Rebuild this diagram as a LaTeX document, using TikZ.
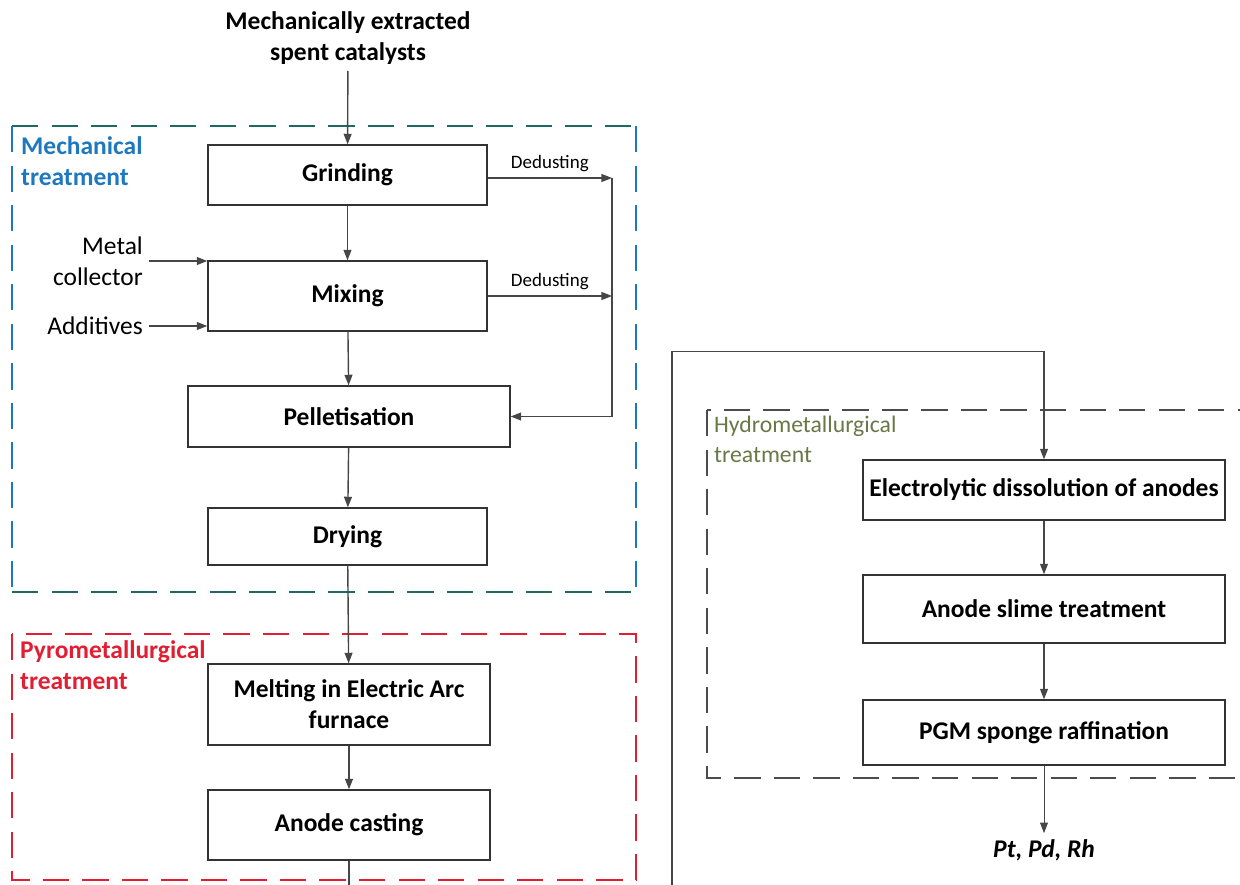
\documentclass[tikz,border=0pt]{standalone}
\usepackage{fontspec}
\setmainfont{Carlito}
\definecolor{MechBlue}{RGB}{30, 120, 190}
\definecolor{MechTeal}{RGB}{30, 105, 100}
\definecolor{PyroRed}{RGB}{225, 30, 50}
\definecolor{HydroOlive}{RGB}{105, 120, 70}
\definecolor{LineGrey}{RGB}{70, 70, 70}
\usepackage{tikz}
\usetikzlibrary{arrows.meta, positioning, calc}

\begin{document}
\begin{tikzpicture}[
            x=0.02cm, y=-0.02cm,
            box/.style={rectangle, draw=black!80, line width=0.8pt, align=center, font=\fontsize{14.5}{17.5}\selectfont\bfseries},
            arr/.style={draw=LineGrey, line width=0.8pt, -{Triangle[length=6pt, width=4.5pt]}},
            frame/.style={line width=1.1pt, dash pattern=on 15pt off 7.5pt},
            tag/.style={anchor=north west, align=left, font=\fontsize{14.5}{18}\selectfont\bfseries},
        ]
            \clip (0,0) rectangle (1240,885);
            % frames
            \draw[frame, MechTeal] (12,126) -- (636,126);
            \draw[frame, MechTeal] (12,592) -- (636,592);
            \draw[frame, MechBlue] (12,126) -- (12,592);
            \draw[frame, MechBlue] (636,126) -- (636,592);
            \draw[frame, PyroRed] (12,634) rectangle (636,880);
            \draw[frame, black!70] (707,410) rectangle (1250,778);
            \node[tag, text=MechBlue] (mechtag) at (15,130) {Mechanical\\treatment};
            \node[tag, text=PyroRed] (pyrotag) at (14,634) {Pyrometallurgical\\treatment};
            \node[tag, text=HydroOlive, font=\fontsize{13.5}{17}\selectfont] (hydrotag) at (708,410) {Hydrometallurgical\\treatment};

            % left column
            \node[box, draw=none] (feed) at (348,38) {Mechanically extracted\\spent catalysts};
            \node[box, minimum width=5.58cm, minimum height=1.2cm] (grind) at (347.5,175) {Grinding};
            \node[box, minimum width=5.58cm, minimum height=1.4cm] (mix) at (347.5,296) {Mixing};
            \node[box, minimum width=6.44cm, minimum height=1.22cm] (pellet) at (349,416.5) {Pelletisation};
            \node[box, minimum width=5.58cm, minimum height=1.14cm] (dry) at (347.5,536.5) {Drying};
            \node[box, minimum width=5.64cm, minimum height=1.62cm] (melt) at (349,704.5) {Melting in Electric Arc\\furnace};
            \node[box, minimum width=5.64cm, minimum height=1.4cm] (anode) at (349,825) {Anode casting};

            \node[align=right, anchor=east, font=\fontsize{14.5}{17.5}\selectfont] (coll) at (149,261) {Metal\\collector};
            \node[anchor=east, font=\fontsize{14.5}{17.5}\selectfont] (add) at (149,326) {Additives};

            % right column
            \node[box, minimum width=7.24cm, minimum height=1.2cm] (electro) at (1044,490) {Electrolytic dissolution of anodes};
            \node[box, minimum width=7.24cm, minimum height=1.36cm] (slime) at (1044,609) {Anode slime treatment};
            \node[box, minimum width=7.24cm, minimum height=1.3cm] (pgm) at (1044,732.5) {PGM sponge raffination};
            \node[font=\fontsize{14.5}{17.5}\selectfont\bfseries\itshape] (metals) at (1044,850) {Pt, Pd, Rh};

            \coordinate (dust) at (612,178);
            \coordinate (loopbot) at (672,900);

            % connectors
            \draw[arr] (feed) -- (grind);
            \draw[arr] (grind) -- (mix);
            \draw[arr] (mix) -- (pellet);
            \draw[arr] (pellet) -- (dry);
            \draw[arr] (dry) -- (melt);
            \draw[arr] (melt) -- (anode);
            \draw[arr] (coll.east) -- (coll.east -| mix.west);
            \draw[arr] (add.east) -- (add.east -| mix.west);
            \draw[arr] (grind.east |- dust) -- node[above, font=\fontsize{10.8}{13}\selectfont] {Dedusting} (dust);
            \draw[arr] (mix.east) -- node[above, font=\fontsize{10.8}{13}\selectfont] {Dedusting} (mix.east -| dust);
            \draw[arr] (dust) |- (pellet.east);
            \draw[arr] (anode.south) -- (anode.south |- loopbot) -- (loopbot) |- ($(electro.north)+(0,-108)$) -- (electro.north);
            \draw[arr] (electro) -- (slime);
            \draw[arr] (slime) -- (pgm);
            \draw[arr, line width=0.5pt] (pgm) -- (metals);
        \end{tikzpicture}
\end{document}
